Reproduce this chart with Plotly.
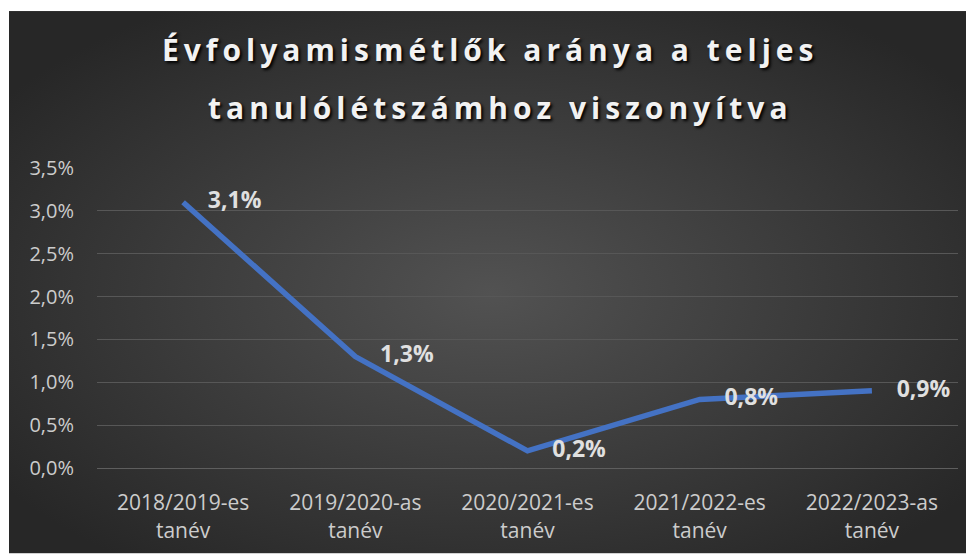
import base64
import plotly.graph_objects as go

categories = ["2018/2019-es<br>tanév", "2019/2020-as<br>tanév", "2020/2021-es<br>tanév",
              "2021/2022-es<br>tanév", "2022/2023-as<br>tanév"]
values = [3.1, 1.3, 0.2, 0.8, 0.9]
y_ticks = [0, 0.5, 1.0, 1.5, 2.0, 2.5, 3.0, 3.5]
y_tick_labels = ["0,0%", "0,5%", "1,0%", "1,5%", "2,0%", "2,5%", "3,0%", "3,5%"]
title_lines = ["Évfolyamismétlők aránya a teljes", "tanulólétszámhoz viszonyítva"]

# figure coordinates (page has an 8px body margin)
W, H = 966, 548
L, R, T, B = 89, 16, 160, 86
pw, ph = W - L - R, H - T - B

svg = ("<svg xmlns='http://www.w3.org/2000/svg' width='965' height='546' preserveAspectRatio='none'>"
       "<defs><radialGradient id='g' cx='50%' cy='52%' r='62%'>"
       "<stop offset='0' stop-color='#525252'/><stop offset='1' stop-color='#272727'/>"
       "</radialGradient></defs><rect x='0' y='0' width='965' height='546' fill='url(#g)'/></svg>")
src = "data:image/svg+xml;base64," + base64.b64encode(svg.encode()).decode()


def px_x(p):
    return (p - L) / pw


def px_y(p):
    return (H - B - p) / ph


fig = go.Figure()
fig.add_trace(go.Scatter(
    x=categories, y=values, mode="lines+markers+text",
    line=dict(color="#4472C4", width=5.5),
    marker=dict(size=38, color="rgba(0,0,0,0)"),
    text=[f"{v:.1f}".replace(".", ",") + "%" for v in values],
    textposition="middle right",
    textfont=dict(family="Open Sans", size=23, color="#e0e0e0", weight="bold"),
    cliponaxis=False, hoverinfo="skip",
))

title_x = [482, 492]
annotations = []
for i, line in enumerate(title_lines):
    annotations.append(dict(
        text='<span style="letter-spacing:5px">' + line + '</span>',
        xref="paper", yref="paper", x=px_x(title_x[i]),
        y=px_y(63 + i * 59), xanchor="center", yanchor="bottom", showarrow=False,
        font=dict(family="Open Sans", size=30, color="#f2f2f2", weight="bold",
                  shadow="2px 2px 3px #000000"),
    ))

fig.update_layout(
    width=W, height=H,
    margin=dict(l=L, r=R, t=T, b=B),
    paper_bgcolor="white",
    plot_bgcolor="rgba(0,0,0,0)",
    showlegend=False,
    images=[dict(source=src, xref="paper", yref="paper", x=px_x(1), y=px_y(2),
                 sizex=px_x(W) - px_x(1), sizey=px_y(2) - px_y(H),
                 xanchor="left", yanchor="top", sizing="stretch", layer="below")],
    annotations=annotations,
    xaxis=dict(range=[-0.5, 4.5], showgrid=False, showline=True, linecolor="#5e5e5e",
               linewidth=1, ticks="", ticklabelstandoff=16,
               tickfont=dict(family="Open Sans", size=21, color="#cccccc"),
               fixedrange=True),
    yaxis=dict(range=[0, 3.5], tickvals=y_ticks, ticktext=y_tick_labels,
               showgrid=True, gridcolor="#575757", gridwidth=1, zeroline=False,
               showline=False, ticks="", ticklabelstandoff=22,
               tickfont=dict(family="Open Sans", size=20, color="#cccccc"),
               fixedrange=True),
)

fig.write_html("out.html")
